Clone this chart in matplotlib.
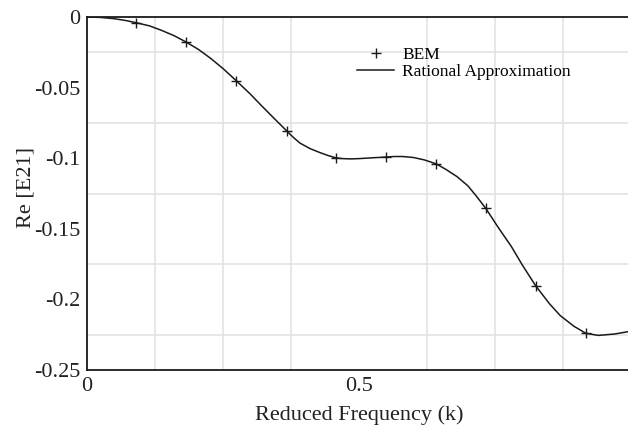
import numpy as np
import matplotlib
matplotlib.use('Agg')
import matplotlib.pyplot as plt

plt.rcParams['font.family'] = ['Liberation Serif', 'DejaVu Serif']

# BEM samples
bem_k = [0.090, 0.182, 0.274, 0.368, 0.458, 0.550, 0.642, 0.733, 0.825, 0.917]
bem_re = [-0.004, -0.0177, -0.045, -0.081, -0.0998, -0.0992, -0.104, -0.1355, -0.1905, -0.224]

# rational approximation curve
fit_k = [0.0, 0.025, 0.05, 0.07, 0.09, 0.115, 0.136, 0.16, 0.182, 0.205, 0.228, 0.25, 0.274,
         0.30, 0.32, 0.345, 0.368, 0.38, 0.3915, 0.41, 0.428, 0.443, 0.458, 0.47, 0.485, 0.50,
         0.525, 0.55, 0.565, 0.58, 0.60, 0.62, 0.642, 0.66, 0.68, 0.70, 0.715, 0.733, 0.755,
         0.78, 0.80, 0.825, 0.85, 0.87, 0.895, 0.917, 0.94, 0.97, 1.0]
fit_re = [0.0, -0.0003, -0.0012, -0.0024, -0.004, -0.0063, -0.0093, -0.0132, -0.0177, -0.023,
          -0.0295, -0.0365, -0.045, -0.0545, -0.0625, -0.0722, -0.081, -0.0855, -0.0893,
          -0.0932, -0.096, -0.0981, -0.0998, -0.1003, -0.1005, -0.1003, -0.0997, -0.0992,
          -0.0988, -0.0988, -0.0995, -0.1012, -0.104, -0.108, -0.113, -0.1195, -0.1265,
          -0.1355, -0.1485, -0.1625, -0.1755, -0.1905, -0.203, -0.2115, -0.219, -0.224,
          -0.2255, -0.2245, -0.2225]

x_ticks = [0, 0.5]
x_tick_labels = ['0', '0.5']
y_ticks = [0, -0.05, -0.1, -0.15, -0.2, -0.25]
y_tick_labels = ['0', '-0.05', '-0.1', '-0.15', '-0.2', '-0.25']

fig = plt.figure(figsize=(6.28, 4.30), dpi=100)
ax = fig.add_axes([87 / 628, 60 / 430, 544 / 628, 353 / 430])

ax.plot(fit_k, fit_re, color='#1a1a1a', lw=1.1, label='Rational Approximation', zorder=3)
ax.plot(bem_k, bem_re, '+', color='#1a1a1a', ms=7, mew=1.0, label='BEM', zorder=4)

ax.set_xlim(0, 1)
ax.set_ylim(-0.25, 0)
ax.set_xticks(x_ticks)
ax.set_xticklabels(x_tick_labels)
ax.set_yticks(y_ticks)
ax.set_yticklabels(y_tick_labels)
ax.set_xticks(np.arange(0, 1.001, 0.125), minor=True)
ax.set_yticks(np.arange(-0.25, 0.001, 0.025), minor=True)
ax.grid(which='minor', color='#e3e3e3', lw=1.2)
ax.set_axisbelow(True)
ax.tick_params(which='both', length=0, labelsize=16, colors='#222222')
ax.tick_params(axis='x', pad=5)
ax.tick_params(axis='y', pad=5)

for side in ['left', 'top', 'bottom']:
    ax.spines[side].set_color('#1a1a1a')
    ax.spines[side].set_linewidth(1.3)
ax.spines['right'].set_visible(False)

ax.set_xlabel('Reduced Frequency (k)', fontsize=16, color='#222222', labelpad=7)
ax.set_ylabel('Re [E21]', fontsize=16, color='#222222')
ax.yaxis.set_label_coords(-0.094, 0.516)

h, l = ax.get_legend_handles_labels()
ax.legend(h[::-1], l[::-1], loc='upper left', bbox_to_anchor=(0.4835, 0.934), frameon=False,
          fontsize=12.5, handlelength=2.15, handletextpad=0.45, labelspacing=0.05,
          borderaxespad=0)

fig.savefig('out.png', dpi=100)
